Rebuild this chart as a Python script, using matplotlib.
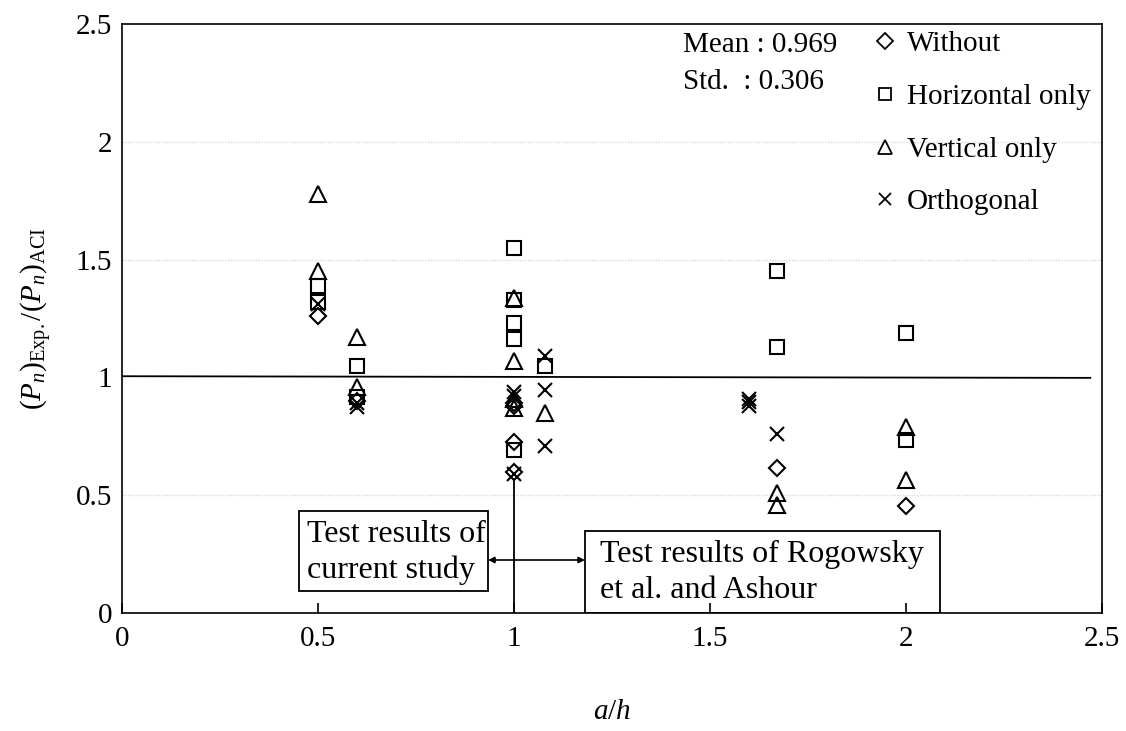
import matplotlib
matplotlib.use('Agg')
import matplotlib.pyplot as plt
from matplotlib.lines import Line2D
from matplotlib.patches import Rectangle

plt.rcParams['font.family'] = ['Liberation Serif', 'DejaVu Serif']
plt.rcParams['mathtext.fontset'] = 'custom'
plt.rcParams['mathtext.rm'] = 'Liberation Serif'
plt.rcParams['mathtext.it'] = 'Liberation Serif:italic'

# data: a/h and (Pn)Exp./(Pn)ACI
without_x = [0.5, 0.6, 1.0, 1.0, 1.0, 1.0, 1.67, 2.0]
without_y = [1.26, 0.90, 0.89, 0.725, 0.60, 0.88, 0.615, 0.455]

horiz_x = [0.5, 0.5, 0.6, 0.6, 1.0, 1.0, 1.0, 1.0, 1.0, 1.08, 1.67, 1.67, 2.0, 2.0]
horiz_y = [1.39, 1.32, 1.05, 0.915, 1.55, 1.33, 1.23, 1.165, 0.69, 1.05, 1.45, 1.13, 1.19, 0.735]

vert_x = [0.5, 0.5, 0.6, 0.6, 1.0, 1.0, 1.0, 1.0, 1.08, 1.67, 1.67, 2.0, 2.0]
vert_y = [1.78, 1.45, 1.17, 0.96, 1.335, 1.07, 0.91, 0.87, 0.85, 0.51, 0.46, 0.79, 0.565]

orth_x = [0.5, 0.6, 0.6, 1.0, 1.0, 1.0, 1.08, 1.08, 1.08, 1.6, 1.6, 1.6, 1.67]
orth_y = [1.31, 0.89, 0.875, 0.94, 0.92, 0.59, 1.09, 0.945, 0.71, 0.91, 0.895, 0.88, 0.76]

mean_val = 0.969
std_val = 0.306

fs = 21

fig = plt.figure(figsize=(11.26, 7.31), dpi=100)
ax = fig.add_axes([0.1083, 0.1614, 0.8704, 0.8058])

# grid lines (light dotted)
for g in [0.5, 1.5, 2.0]:
    ax.axhline(g, color='#d9d9d9', lw=1, ls=(0, (1, 1)), zorder=0)

# reference line at 1.0
ax.plot([0, 2.47], [1.005, 0.998], color='black', lw=1.3, zorder=1)

ms = 10
mew = 1.5
ax.plot(without_x, without_y, 'D', ms=ms * 0.8, mfc='none', mec='black', mew=mew, ls='none', zorder=3)
ax.plot(horiz_x, horiz_y, 's', ms=ms * 0.95, mfc='none', mec='black', mew=mew, ls='none', zorder=3)
ax.plot(vert_x, vert_y, '^', ms=ms * 1.15, mfc='none', mec='black', mew=mew, ls='none', zorder=3)
ax.plot(orth_x, orth_y, 'x', ms=ms * 1.05, mec='black', mew=mew, ls='none', zorder=3)

ax.set_xlim(0, 2.5)
ax.set_ylim(0, 2.5)
ax.set_xticks([0, 0.5, 1, 1.5, 2, 2.5])
ax.set_xticklabels(['0', '0.5', '1', '1.5', '2', '2.5'])
ax.set_yticks([0, 0.5, 1, 1.5, 2, 2.5])
ax.set_yticklabels(['0', '0.5', '1', '1.5', '2', '2.5'])
ax.tick_params(axis='y', direction='in', length=0, labelsize=fs, pad=7)
ax.tick_params(axis='x', direction='in', length=7, width=1.2, labelsize=fs, pad=9)
for s in ax.spines.values():
    s.set_linewidth(1.2)

ax.set_xlabel('$a/h$', fontsize=fs, labelpad=34)
ax.set_ylabel(r'$(P_n)_{\mathrm{Exp.}}/(P_n)_{\mathrm{ACI}}$', fontsize=fs, labelpad=16)

# divider between current study and other tests
ax.plot([1.0, 1.0], [0, 0.56], color='black', lw=1.3, zorder=2)
ax.annotate('', xy=(0.934, 0.225), xytext=(1.181, 0.225),
            arrowprops=dict(arrowstyle='<|-|>', color='black', lw=1.2,
                            mutation_scale=9, shrinkA=0, shrinkB=0))
ax.add_patch(Rectangle((0.452, 0.093), 0.482, 0.339, fill=False, ec='black', lw=1.3, zorder=4))
ax.text(0.472, 0.258, 'Test results of\ncurrent study', fontsize=23, va='center', ha='left',
        linespacing=1.3, zorder=5)
ax.add_patch(Rectangle((1.181, 0.0), 0.906, 0.35, fill=False, ec='black', lw=1.3, zorder=4))
ax.text(1.219, 0.172, 'Test results of Rogowsky\net al. and Ashour', fontsize=23, va='center',
        ha='left', linespacing=1.3, zorder=5)

# statistics
ax.text(1.43, 2.41, 'Mean : %.3f' % mean_val, fontsize=fs, va='center', ha='left')
ax.text(1.43, 2.255, 'Std.  : %.3f' % std_val, fontsize=fs, va='center', ha='left')

handles = [
    Line2D([], [], marker='D', ms=8, mfc='none', mec='black', mew=1.3, ls='none'),
    Line2D([], [], marker='s', ms=9, mfc='none', mec='black', mew=1.3, ls='none'),
    Line2D([], [], marker='^', ms=10, mfc='none', mec='black', mew=1.3, ls='none'),
    Line2D([], [], marker='x', ms=9, mec='black', mew=1.3, ls='none'),
]
labels = ['Without', 'Horizontal only', 'Vertical only', 'Orthogonal']
ax.legend(handles, labels, loc='upper left', bbox_to_anchor=(0.768, 0.988), frameon=False,
          fontsize=fs, handlelength=0.7, handletextpad=0.4, labelspacing=0.9,
          borderpad=0, borderaxespad=0)

fig.savefig('out.png', dpi=100)
